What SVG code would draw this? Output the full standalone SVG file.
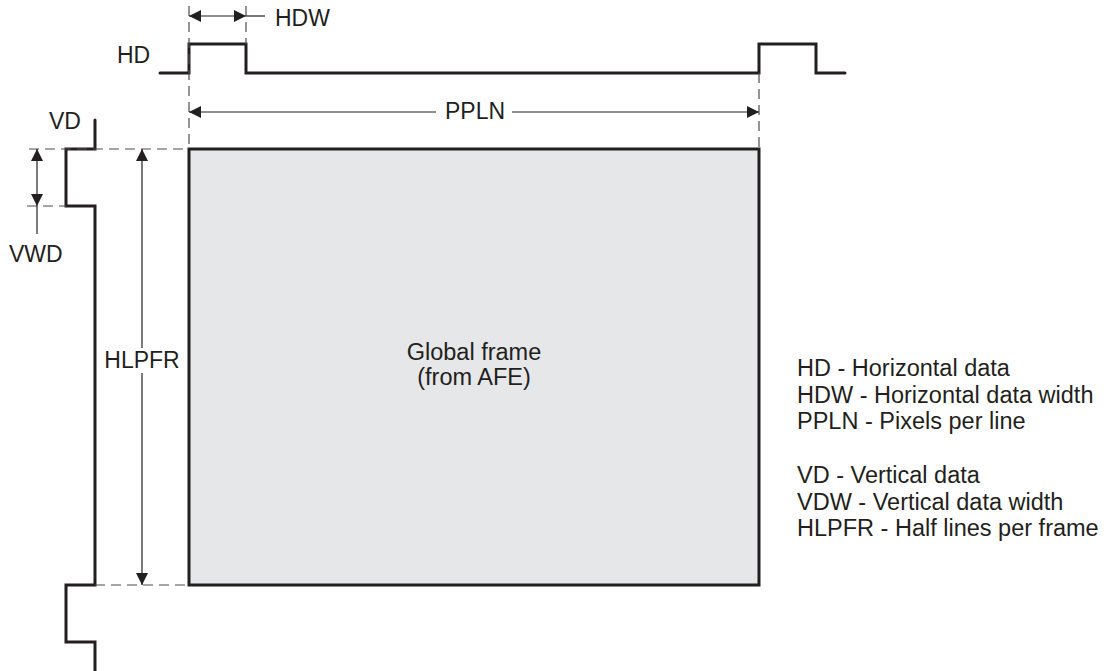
<svg xmlns="http://www.w3.org/2000/svg" width="1107" height="671" viewBox="0 0 1107 671">
<style>
text{font-family:"Liberation Sans",Arial,sans-serif;font-size:23px;fill:#231f20}
.big{font-size:23.5px}
.sig{fill:none;stroke:#231f20;stroke-width:3;stroke-linejoin:miter;stroke-linecap:round}
.dash{fill:none;stroke:#4d4d4f;stroke-width:1.2;stroke-dasharray:10,6}
.dim{fill:none;stroke:#231f20;stroke-width:1.2}
.arr{marker-end:url(#ah)}
.arr2{marker-start:url(#ah);marker-end:url(#ah)}
</style>
<defs>
<marker id="ah" viewBox="0 0 12 12" refX="12" refY="6" markerWidth="12" markerHeight="12" markerUnits="userSpaceOnUse" orient="auto-start-reverse">
<path d="M0,0 L12,6 L0,12 Z" fill="#231f20"/>
</marker>
</defs>
<g id="frame">
<rect x="189" y="149" width="570" height="436" fill="#e6e7e8" stroke="#231f20" stroke-width="3"/>
<text class="big" x="474" y="360" text-anchor="middle">Global frame</text>
<text class="big" x="474" y="385" text-anchor="middle">(from AFE)</text>
</g>
<g id="hd-signal">
<path class="sig" d="M160,73 H189 V44 H246 V73 H759 V44 H816 V73 H845"/>
<text x="117" y="63">HD</text>
</g>
<g id="vd-signal">
<path class="sig" d="M95,120 V149 H66 V206 H95 V585 H66 V642 H95 V671"/>
<text x="49" y="129">VD</text>
</g>
<g id="connectors">
<path class="dash" d="M189,6 V149"/>
<path class="dash" d="M246,6 V44"/>
<path class="dash" d="M759,73 V149"/>
<path class="dash" d="M29,149 H189"/>
<path class="dash" d="M27,206 H66"/>
<path class="dash" d="M95,585 H189"/>
<path class="dim arr2" d="M189,16 H246"/>
<path class="dim" d="M246,16 H265"/>
<path class="dim arr" d="M436,112 H189"/>
<path class="dim arr" d="M512,112 H759"/>
<path class="dim arr2" d="M37,149 V206"/>
<path class="dim" d="M37,206 V234"/>
<path class="dim arr" d="M142,348 V149"/>
<path class="dim arr" d="M142,373 V585"/>
</g>
<g id="labels">
<text x="275" y="26">HDW</text>
<text x="475" y="119" text-anchor="middle">PPLN</text>
<text x="9" y="262">VWD</text>
<text x="142" y="368" text-anchor="middle">HLPFR</text>
</g>
<g id="legend" class="big">
<text class="big" x="797" y="376">HD - Horizontal data</text>
<text class="big" x="797" y="403">HDW - Horizontal data width</text>
<text class="big" x="797" y="429">PPLN - Pixels per line</text>
<text class="big" x="797" y="483">VD - Vertical data</text>
<text class="big" x="797" y="510">VDW - Vertical data width</text>
<text class="big" x="797" y="536">HLPFR - Half lines per frame</text>
</g>
</svg>
